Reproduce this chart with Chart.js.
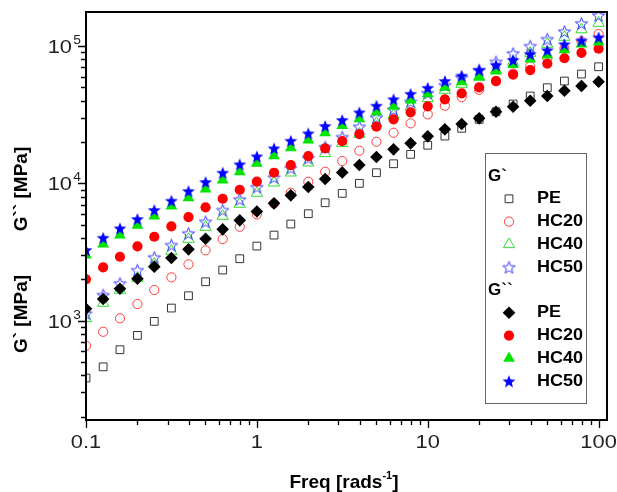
<!DOCTYPE html>
<html>
<head>
<meta charset="utf-8">
<script src="https://cdn.jsdelivr.net/npm/chart.js@4.4.1/dist/chart.umd.min.js"></script>
<style>
  html, body { margin: 0; padding: 0; background: #fff; }
  #wrap { width: 617px; height: 492px; }
</style>
</head>
<body>
<div id="wrap"><canvas id="grafico" width="617" height="492"></canvas></div>
<script>
// frequencias (rad/s)
const freq = [0.1, 0.126, 0.158, 0.2, 0.251, 0.316, 0.398, 0.501, 0.631, 0.794,
              1, 1.26, 1.58, 2, 2.51, 3.16, 3.98, 5.01, 6.31, 7.94,
              10, 12.6, 15.8, 20, 25.1, 31.6, 39.8, 50.1, 63.1, 79.4, 100];

// G` (modulo de armazenamento)
const gpPE   = [382, 461, 614, 781, 988, 1235, 1518, 1920, 2337, 2825,
                3494, 4200, 5055, 6010, 7225, 8455, 10000, 11950, 13890, 16260,
                18950, 22100, 25170, 29250, 33230, 37820, 43250, 49700, 55600, 62500, 70650];
const gpHC20 = [656, 830, 1040, 1321, 1671, 2068, 2570, 3251, 3929, 4830,
                5946, 7127, 8540, 10270, 12150, 14540, 17280, 20090, 23360, 27350,
                31800, 36750, 42520, 48060, 55620, 63050, 71140, 81780, 95900, 108200, 122300];
const gpHC40 = [1039, 1343, 1671, 2044, 2584, 3213, 3929, 4805, 5777, 7068,
                8500, 10100, 11950, 14130, 16540, 19560, 22860, 27350, 31430, 36140,
                41600, 47810, 52870, 59460, 66880, 76450, 88920, 103400, 116300, 131900, 147000];
const gpHC50 = [1130, 1537, 1870, 2336, 2891, 3553, 4324, 5253, 6390, 7645,
                9397, 11060, 12930, 15290, 18380, 21740, 25840, 30150, 34470, 39290,
                45460, 52000, 58970, 66880, 76840, 88480, 100000, 112400, 127500, 146300, 167300];

// G`` (modulo de perda)
const gppPE   = [1222, 1437, 1708, 2019, 2472, 2858, 3305, 3950, 4624, 5377,
                 6230, 7150, 8180, 9400, 10750, 12020, 13590, 15540, 17690, 19560,
                 21990, 24740, 27040, 29750, 33230, 36140, 39980, 43250, 47240, 51130, 54950];
const gppHC20 = [2000, 2443, 2920, 3476, 4083, 4862, 5682, 6686, 7723, 8982,
                 10310, 11950, 13590, 15800, 17980, 20330, 22860, 25840, 29250, 32890,
                 36380, 40910, 45230, 50030, 55620, 62000, 66880, 74580, 81500, 89220, 95570];
const gppHC40 = [3005, 3613, 4203, 4944, 5777, 6834, 7854, 9090, 10570, 12150,
                 13980, 15890, 18170, 20680, 23360, 26360, 29550, 33060, 36440, 40430,
                 44930, 50030, 54950, 59760, 65750, 73330, 80400, 86000, 93800, 103400, 106900];
const gppHC50 = [3268, 4016, 4700, 5495, 6390, 7470, 8786, 10220, 11950, 13750,
                 15730, 17980, 20430, 23130, 26150, 28910, 32890, 36750, 40970, 44860,
                 49620, 55620, 60770, 66880, 72700, 79070, 87450, 93200, 103100, 109700, 115700];

const amostras = ["PE", "HC20", "HC40", "HC50"];

// marcas dos eixos
const xMajor = [0.1, 1, 10, 100];
const xLabels = ["0.1", "1", "10", "100"];
const xMinor = [0.2, 0.3, 0.4, 0.5, 0.6, 0.7, 0.8, 0.9, 2, 3, 4, 5, 6, 7, 8, 9,
                20, 30, 40, 50, 60, 70, 80, 90];
const yMajor = [1000, 10000, 100000];
const yExp = ["3", "4", "5"];
const yMinor = [200, 300, 400, 500, 600, 700, 800, 900,
                2000, 3000, 4000, 5000, 6000, 7000, 8000, 9000,
                20000, 30000, 40000, 50000, 60000, 70000, 80000, 90000];

// estrela de 5 pontas (o "star" do Chart.js e um asterisco)
function estrela(r, fill, stroke) {
  const size = Math.ceil(2 * r + 4);
  const c = document.createElement("canvas");
  c.width = size; c.height = size;
  const g = c.getContext("2d");
  const cx = size / 2, cy = size / 2 + r * 0.1;
  g.beginPath();
  for (let k = 0; k < 10; k++) {
    const rr = k % 2 === 0 ? r : r * 0.42;
    const a = -Math.PI / 2 + k * Math.PI / 5;
    const px = cx + rr * Math.cos(a), py = cy + rr * Math.sin(a);
    if (k === 0) g.moveTo(px, py); else g.lineTo(px, py);
  }
  g.closePath();
  if (fill) { g.fillStyle = fill; g.fill(); }
  if (stroke) { g.strokeStyle = stroke; g.lineWidth = 1; g.stroke(); }
  return c;
}

const estrelaAberta = estrela(6.5, null, "#3a3aff");
const estrelaCheia = estrela(6.8, "#0000ff", null);

const pares = (ys) => freq.map((f, i) => ({ x: f, y: ys[i] }));

const series = [
  { data: gpPE,    grupo: 0, style: "rect",     r: 5.5, bg: "rgba(0,0,0,0)", bc: "#333333", bw: 1 },
  { data: gpHC20,  grupo: 0, style: "circle",   r: 4.6, bg: "rgba(0,0,0,0)", bc: "#ff3b3b", bw: 1 },
  { data: gpHC40,  grupo: 0, style: "triangle", r: 6.5, bg: "rgba(0,0,0,0)", bc: "#30dd30", bw: 1 },
  { data: gpHC50,  grupo: 0, style: estrelaAberta, r: 6.5, bg: "rgba(0,0,0,0)", bc: "#3a3aff", bw: 1 },
  { data: gppPE,   grupo: 1, style: "rectRot",  r: 6.3, bg: "#000000", bc: "#000000", bw: 0 },
  { data: gppHC20, grupo: 1, style: "circle",   r: 5.1, bg: "#ff0000", bc: "#ff0000", bw: 0 },
  { data: gppHC40, grupo: 1, style: "triangle", r: 6.8, bg: "#00e400", bc: "#00e400", bw: 0 },
  { data: gppHC50, grupo: 1, style: estrelaCheia, r: 6.8, bg: "#0000ff", bc: "#0000ff", bw: 0 }
];

const datasets = series.map((s, i) => ({
  label: (s.grupo ? "G`` " : "G` ") + amostras[i % 4],
  data: pares(s.data),
  pointStyle: s.style,
  pointRadius: s.r,
  pointHoverRadius: s.r,
  pointBackgroundColor: s.bg,
  pointBorderColor: s.bc,
  pointBorderWidth: s.bw,
  showLine: false,
  clip: 0,
  order: 8 - i
}));

function desenhaMarca(ctx, ds, x, y) {
  const r = ds.pointRadius, st = ds.pointStyle;
  ctx.save();
  if (typeof st === "object") {
    ctx.drawImage(st, x - st.width / 2, y - st.height / 2);
    ctx.restore();
    return;
  }
  ctx.fillStyle = ds.pointBackgroundColor;
  ctx.strokeStyle = ds.pointBorderColor;
  ctx.lineWidth = ds.pointBorderWidth;
  ctx.beginPath();
  if (st === "circle") {
    ctx.arc(x, y, r, 0, Math.PI * 2);
  } else if (st === "rect") {
    const s = r * Math.SQRT1_2;
    ctx.rect(x - s, y - s, 2 * s, 2 * s);
  } else if (st === "rectRot") {
    ctx.moveTo(x - r, y); ctx.lineTo(x, y - r); ctx.lineTo(x + r, y); ctx.lineTo(x, y + r);
    ctx.closePath();
  } else if (st === "triangle") {
    for (let k = 0; k < 3; k++) {
      const a = k * Math.PI * 2 / 3;
      const px = x + Math.sin(a) * r, py = y - Math.cos(a) * r;
      if (k === 0) ctx.moveTo(px, py); else ctx.lineTo(px, py);
    }
    ctx.closePath();
  }
  ctx.fill();
  if (ds.pointBorderWidth > 0) ctx.stroke();
  ctx.restore();
}

// eixos, titulos e legenda desenhados por cima
const moldura = {
  id: "moldura",
  afterDraw(chart) {
    const ctx = chart.ctx, a = chart.chartArea;
    const xs = chart.scales.x, ys = chart.scales.y;
    ctx.save();

    // caixa
    ctx.strokeStyle = "#000";
    ctx.lineWidth = 2;
    ctx.strokeRect(a.left, a.top, a.right - a.left, a.bottom - a.top);

    // marcas
    ctx.lineWidth = 1.3;
    ctx.beginPath();
    xMajor.forEach(v => { const p = Math.round(xs.getPixelForValue(v)) + 0.5; ctx.moveTo(p, a.bottom); ctx.lineTo(p, a.bottom + 8); });
    xMinor.forEach(v => { const p = Math.round(xs.getPixelForValue(v)) + 0.5; ctx.moveTo(p, a.bottom); ctx.lineTo(p, a.bottom + 5); });
    yMajor.forEach(v => { const p = Math.round(ys.getPixelForValue(v)) + 0.5; ctx.moveTo(a.left, p); ctx.lineTo(a.left - 8, p); });
    yMinor.forEach(v => { const p = Math.round(ys.getPixelForValue(v)) + 0.5; ctx.moveTo(a.left, p); ctx.lineTo(a.left - 5, p); });
    ctx.stroke();

    // rotulos x
    ctx.fillStyle = "#222";
    ctx.font = "19px 'Liberation Sans', Arial, sans-serif";
    ctx.textAlign = "center";
    ctx.textBaseline = "alphabetic";
    xMajor.forEach((v, i) => {
      const p = xs.getPixelForValue(v);
      ctx.save();
      ctx.translate(p, a.bottom + 28);
      ctx.scale(1.15, 1);
      ctx.fillText(xLabels[i], 0, 0);
      ctx.restore();
    });

    // rotulos y (10 com expoente)
    yMajor.forEach((v, i) => {
      const p = ys.getPixelForValue(v);
      ctx.save();
      ctx.translate(a.left - 14, p + 7);
      ctx.scale(1.15, 1);
      ctx.textAlign = "right";
      ctx.font = "19px 'Liberation Sans', Arial, sans-serif";
      ctx.fillText("10", 0, 0);
      ctx.textAlign = "left";
      ctx.font = "12px 'Liberation Sans', Arial, sans-serif";
      ctx.fillText(yExp[i], 1, -9);
      ctx.restore();
    });

    // titulo x
    ctx.fillStyle = "#000";
    ctx.textAlign = "left";
    const f1 = "bold 19px 'Liberation Sans', Arial, sans-serif";
    const f2 = "bold 11px 'Liberation Sans', Arial, sans-serif";
    ctx.font = f1; const w1 = ctx.measureText("Freq [rads").width;
    ctx.font = f2; const w2 = ctx.measureText("-1").width;
    ctx.font = f1; const w3 = ctx.measureText("]").width;
    let tx = 344 - (w1 + w2 + w3) / 2;
    const ty = 488;
    ctx.font = f1; ctx.fillText("Freq [rads", tx, ty); tx += w1;
    ctx.font = f2; ctx.fillText("-1", tx, ty - 9); tx += w2;
    ctx.font = f1; ctx.fillText("]", tx, ty);

    // titulos y
    ctx.textAlign = "center";
    ctx.textBaseline = "middle";
    ctx.font = "bold 19px 'Liberation Sans', Arial, sans-serif";
    [["G`` [MPa]", 189], ["G` [MPa]", 314]].forEach(([t, yy]) => {
      ctx.save();
      ctx.translate(22, yy);
      ctx.rotate(-Math.PI / 2);
      ctx.fillText(t, 0, 0);
      ctx.restore();
    });

    // legenda
    const lx = a.right - 122, ly = a.top + 141;
    ctx.fillStyle = "#fff";
    ctx.fillRect(lx, ly, 101, 250);
    ctx.strokeStyle = "#666";
    ctx.lineWidth = 1;
    ctx.strokeRect(lx + 0.5, ly + 0.5, 101, 250);
    ctx.fillStyle = "#000";
    ctx.textAlign = "left";
    ctx.textBaseline = "middle";
    ctx.font = "bold 17px 'Liberation Sans', Arial, sans-serif";
    let row = 0;
    const passo = 22.8, y0 = ly + 23;
    ["G`", "G``"].forEach((h, g) => {
      ctx.fillText(h, lx + 3, y0 + passo * row);
      row++;
      amostras.forEach((nome, k) => {
        const yy = y0 + passo * row;
        desenhaMarca(ctx, chart.data.datasets[g * 4 + k], lx + 24, yy);
        ctx.save();
        ctx.translate(lx + 52, yy);
        ctx.scale(1.06, 1);
        ctx.fillText(nome, 0, 0);
        ctx.restore();
        row++;
      });
    });
    ctx.restore();
  }
};

new Chart(document.getElementById("grafico").getContext("2d"), {
  type: "scatter",
  data: { datasets },
  options: {
    responsive: false,
    animation: false,
    devicePixelRatio: 1,
    layout: { padding: { left: 0, top: 12, right: 10, bottom: 0 } },
    plugins: { legend: { display: false }, tooltip: { enabled: false } },
    scales: {
      x: {
        type: "logarithmic",
        min: 0.1,
        max: 112,
        grid: { display: false },
        border: { display: false },
        ticks: { display: false },
        afterFit(s) { s.height = 72; }
      },
      y: {
        type: "logarithmic",
        min: 189,
        max: 177000,
        grid: { display: false },
        border: { display: false },
        ticks: { display: false },
        afterFit(s) { s.width = 86; }
      }
    }
  },
  plugins: [moldura]
});
</script>
</body>
</html>
